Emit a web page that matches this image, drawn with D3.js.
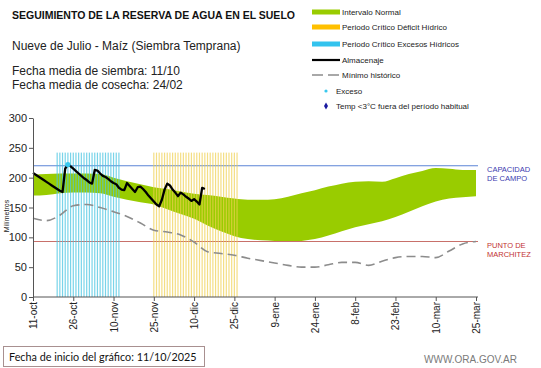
<!DOCTYPE html>
<html>
<head>
<meta charset="utf-8">
<script src="https://cdn.jsdelivr.net/npm/d3@7"></script>
<style>
  body { margin: 0; background: #fff; }
  svg { display: block; font-family: "Liberation Sans", Arial, sans-serif; }
</style>
</head>
<body>
<svg id="chart" width="541" height="368"></svg>
<script>
// fecha de inicio del grafico
var startDate = new Date(2025, 9, 11);

// intervalo normal y minimo historico, leidos cada 5 dias
var bandDays = [0,5,10,15,20,25,30,35,40,45,50,55,60,65,70,75,80,85,90,95,100,105,110,115,120,125,130,135,140,145,150,155,160,165];
var bandUpper = [205,206,207,207,207,206,200,194,189,184,181,177,173,171,168,165,163,163,164,168,174,179,185,190,193,194,193,199,206,211,216,215,213,213];
var bandLower = [170,171,174,175,175,174,168,163,159,155,147,139,131,120,110,102,97,95,94,93,94,97,103,110,117,122,127,134,143,152,160,165,167,169];
var minimoHist = [132,128,137,153,155,150,143,135,124,112,109,104,92,76,73,70,65,61,57,53,50,50,54,58,58,53,60,66,68,68,66,77,89,93];

// almacenaje diario desde el 11/10
var almacenaje = [208,205,202,199,196,193,190,187,184,181,178,176,215,222,219,215,211,207,203,199,196,192,190,213,212,207,203,201,198,194,191,189,183,180,179,191,186,181,176,184,185,181,176,170,165,160,155,152,163,180,190,187,180,175,169,175,172,168,165,161,164,160,155,183,181];

// dias con exceso
var excesoDays = [13];

// periodos criticos (dias desde el inicio)
var excesosDays = [9,10,11,12,13,14,15,16,17,18,19,20,21,22,23,24,25,26,27,28,29,30,31,32];
var deficitDays = [45,46,47,48,49,50,51,52,53,54,55,56,57,58,59,60,61,62,63,64,65,66,67,68,69,70,71,72,73,74,75,76];
var periodoTop = 242;

var capacidadCampo = 220;
var puntoMarchitez = 93;

var tickDays = [0,15,30,45,60,75,90,105,120,135,150,165];
var tickLabels = ["11-oct","26-oct","10-nov","25-nov","10-dic","25-dic","9-ene","24-ene","8-feb","23-feb","10-mar","25-mar"];
var yTicks = [0,50,100,150,200,250,300];

var legendItems = ["Intervalo Normal","Periodo Crítico Déficit Hídrico","Periodo Crítico Excesos Hídricos","Almacenaje","Mínimo histórico","Exceso","Temp <3°C fuera del período habitual"];

function dayToDate(d) { return d3.timeDay.offset(startDate, d); }

var svg = d3.select("#chart");

var x = d3.scaleTime()
    .domain([dayToDate(0), dayToDate(165)])
    .range([33, 476]);
var y = d3.scaleLinear().domain([0, 300]).range([297, 118]);

// banda normal
var band = bandDays.map(function(d, i) { return { day: d, hi: bandUpper[i], lo: bandLower[i], min: minimoHist[i] }; });

svg.append("path")
    .datum(band)
    .attr("fill", "#99cc00")
    .attr("d", d3.area()
        .x(function(d) { return x(dayToDate(d.day)); })
        .y0(function(d) { return y(d.lo); })
        .y1(function(d) { return y(d.hi); })
        .curve(d3.curveMonotoneX));

// lineas de referencia
svg.append("line")
    .attr("x1", 33).attr("x2", 478)
    .attr("y1", y(capacidadCampo)).attr("y2", y(capacidadCampo))
    .attr("stroke", "#5b84d6").attr("stroke-width", 1.1);
svg.append("line")
    .attr("x1", 33).attr("x2", 478)
    .attr("y1", y(puntoMarchitez)).attr("y2", y(puntoMarchitez))
    .attr("stroke", "#c8706a").attr("stroke-width", 1.1);

// periodos criticos
svg.append("g").selectAll("rect")
    .data(excesosDays)
    .join("rect")
    .attr("x", function(d) { return x(dayToDate(d)) - 0.6; })
    .attr("y", y(periodoTop))
    .attr("width", 1.2)
    .attr("height", y(0) - y(periodoTop))
    .attr("fill", "#4cc6e2")
    .attr("fill-opacity", 0.75);

svg.append("g").selectAll("rect")
    .data(deficitDays)
    .join("rect")
    .attr("x", function(d) { return x(dayToDate(d)) - 0.6; })
    .attr("y", y(periodoTop))
    .attr("width", 1.2)
    .attr("height", y(0) - y(periodoTop))
    .attr("fill", "#f0d050")
    .attr("fill-opacity", 0.7);

// minimo historico
svg.append("path")
    .datum(band)
    .attr("fill", "none")
    .attr("stroke", "#8c8c8c")
    .attr("stroke-width", 1.6)
    .attr("stroke-dasharray", "9,5")
    .attr("d", d3.line()
        .x(function(d) { return x(dayToDate(d.day)); })
        .y(function(d) { return y(d.min); })
        .curve(d3.curveMonotoneX));

// almacenaje
svg.append("path")
    .datum(almacenaje)
    .attr("fill", "none")
    .attr("stroke", "#000")
    .attr("stroke-width", 2.3)
    .attr("stroke-linejoin", "round")
    .attr("d", d3.line()
        .x(function(d, i) { return x(dayToDate(i)); })
        .y(function(d) { return y(d); }));

svg.append("g").selectAll("circle")
    .data(excesoDays)
    .join("circle")
    .attr("cx", function(d) { return x(dayToDate(d)); })
    .attr("cy", function(d) { return y(almacenaje[d]); })
    .attr("r", 2.6)
    .attr("fill", "#38c8ee");

// ejes
var yAxis = svg.append("g")
    .attr("transform", "translate(33,0)")
    .call(d3.axisLeft(y).tickValues(yTicks).tickSize(4).tickSizeOuter(0));
yAxis.select(".domain").attr("stroke", "#555");
yAxis.selectAll(".tick line").attr("stroke", "#555");
yAxis.selectAll("text").attr("font-size", 11).attr("fill", "#222")
    .attr("font-family", "Liberation Sans, Arial, sans-serif").attr("x", -6);

var xAxis = svg.append("g")
    .attr("transform", "translate(0,297)")
    .call(d3.axisBottom(x)
        .tickValues(tickDays.map(dayToDate))
        .tickFormat(function(d, i) { return tickLabels[i]; })
        .tickSize(4).tickSizeOuter(0));
xAxis.select(".domain").attr("stroke", "#555").attr("d", "M33,0H478");
xAxis.selectAll(".tick line").attr("stroke", "#555");
xAxis.selectAll("text")
    .attr("font-size", 10).attr("fill", "#222")
    .attr("font-family", "Liberation Sans, Arial, sans-serif")
    .attr("text-anchor", "end")
    .attr("transform", "rotate(-90)")
    .attr("x", -5).attr("y", 0).attr("dy", "0.35em");

svg.append("text")
    .attr("transform", "translate(9,216) rotate(-90)")
    .attr("text-anchor", "middle")
    .attr("font-size", 7)
    .attr("fill", "#222")
    .text("Milímetros");

// etiquetas de referencia
function refLabel(lines, yy, color) {
    var t = svg.append("text").attr("x", 487).attr("y", yy)
        .attr("font-size", 7.5).attr("fill", color);
    lines.forEach(function(l, i) {
        t.append("tspan").attr("x", 487).attr("dy", i ? 9 : 0).text(l);
    });
}
refLabel(["CAPACIDAD", "DE  CAMPO"], 172, "#3b3bb0");
refLabel(["PUNTO  DE", "MARCHITEZ"], 248, "#c23232");

// titulos
svg.append("text").attr("x", 12).attr("y", 19)
    .attr("font-size", 10.5).attr("font-weight", "bold").attr("fill", "#111")
    .text("SEGUIMIENTO DE LA RESERVA DE AGUA  EN EL SUELO");
svg.append("text").attr("x", 12).attr("y", 50)
    .attr("font-size", 12).attr("fill", "#222")
    .text("Nueve  de Julio - Maíz  (Siembra Temprana)");
svg.append("text").attr("x", 12).attr("y", 75)
    .attr("font-size", 12).attr("fill", "#222")
    .text("Fecha media de siembra: 11/10");
svg.append("text").attr("x", 12).attr("y", 89)
    .attr("font-size", 12).attr("fill", "#222")
    .text("Fecha media de cosecha: 24/02");

// leyenda
var legendY = [12, 27, 44, 60, 75, 91, 106];
var lg = svg.append("g");
legendItems.forEach(function(name, i) {
    var yy = legendY[i];
    if (i < 3) {
        lg.append("rect").attr("x", 312).attr("y", yy - 2.5).attr("width", 28).attr("height", 5)
            .attr("fill", ["#99cc00", "#ffc000", "#33c3ee"][i]);
    } else if (i === 3) {
        lg.append("line").attr("x1", 312).attr("x2", 340).attr("y1", yy).attr("y2", yy)
            .attr("stroke", "#000").attr("stroke-width", 2.2);
    } else if (i === 4) {
        lg.append("line").attr("x1", 312).attr("x2", 340).attr("y1", yy).attr("y2", yy)
            .attr("stroke", "#8c8c8c").attr("stroke-width", 1.6).attr("stroke-dasharray", "11,5");
    } else if (i === 5) {
        lg.append("circle").attr("cx", 326).attr("cy", yy).attr("r", 1.6).attr("fill", "#38c8ee");
    } else {
        lg.append("path").attr("d", d3.symbol().type(d3.symbolDiamond).size(14)())
            .attr("transform", "translate(326," + yy + ")").attr("fill", "#1a1aa0");
    }
    lg.append("text").attr("x", i < 5 ? 342 : 336).attr("y", yy).attr("dy", "0.35em")
        .attr("font-size", 8).attr("fill", "#222").text(name);
});

// pie
svg.append("rect").attr("x", 3.5).attr("y", 346.5).attr("width", 201).attr("height", 20)
    .attr("fill", "#fff").attr("stroke", "#a89090");
svg.append("text").attr("x", 9).attr("y", 361)
    .attr("font-family", "Lato, 'Open Sans', sans-serif").attr("font-size", 10.8).attr("fill", "#111")
    .text("Fecha de inicio del gráfico:  11/10/2025");
svg.append("text").attr("x", 517).attr("y", 363).attr("text-anchor", "end")
    .attr("font-size", 10).attr("fill", "#7a7a7a")
    .text("WWW.ORA.GOV.AR");
</script>
</body>
</html>
